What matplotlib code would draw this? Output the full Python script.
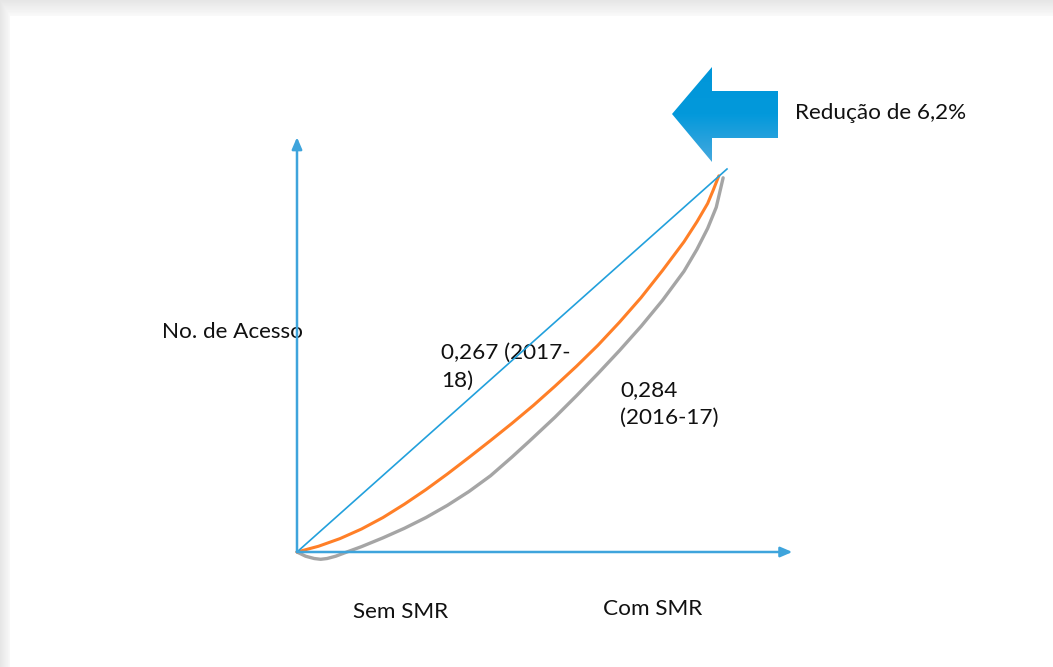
import numpy as np
import matplotlib.pyplot as plt
from matplotlib.patches import Polygon
from matplotlib.colors import LinearSegmentedColormap

plt.rcParams['font.family'] = ['Lato', 'DejaVu Sans']

# curvas de Lorenz (fracao acumulada)
equality_x = [0.0, 1.0]
equality_y = [0.0, 1.0]

gini_2017_x = [0.0, 0.05, 0.1, 0.15, 0.2, 0.25, 0.3, 0.35, 0.4, 0.45, 0.5, 0.55, 0.6,
               0.65, 0.7, 0.75, 0.8, 0.85, 0.9, 0.93, 0.955, 0.968, 0.981]
gini_2017_y = [0.0, 0.015, 0.035, 0.060, 0.090, 0.125, 0.163, 0.204, 0.247, 0.291, 0.336, 0.383, 0.433,
               0.485, 0.540, 0.600, 0.664, 0.735, 0.810, 0.862, 0.910, 0.945, 0.982]

gini_2016_x = [0.0, 0.02, 0.04, 0.055, 0.07, 0.09, 0.116, 0.15, 0.2, 0.25, 0.3, 0.35, 0.4, 0.45, 0.5,
               0.54, 0.6, 0.65, 0.7, 0.75, 0.8, 0.85, 0.9, 0.93, 0.955, 0.975, 0.991]
gini_2016_y = [0.0, -0.011, -0.017, -0.019, -0.017, -0.011, 0.0, 0.014, 0.037, 0.062, 0.090, 0.122, 0.158, 0.199, 0.248,
               0.289, 0.352, 0.408, 0.466, 0.526, 0.589, 0.657, 0.733, 0.790, 0.845, 0.900, 0.977]

label_2017 = '0,267 (2017-\n18)'
label_2016 = '0,284\n(2016-17)'
label_y = 'No. de Acesso'
label_x0 = 'Sem SMR'
label_x1 = 'Com SMR'
label_arrow = 'Redução de 6,2%'

W, H = 1053, 667
fig = plt.figure(figsize=(W / 100, H / 100), dpi=100)

# fundo com sombra cinza no topo e na esquerda
bg = fig.add_axes([0, 0, 1, 1])
yy, xx = np.mgrid[0:H, 0:W]
dy = np.clip((16 - yy) / 16, 0, 1)
dx = np.clip((10 - xx) / 10, 0, 1)
shade = np.maximum(dy, dx)
img = 1 - shade * 0.08 - (shade > 0) * 0.02
bg.imshow(img, cmap='gray', vmin=0, vmax=1, extent=[0, W, H, 0], aspect='auto')
bg.set_xlim(0, W)
bg.set_ylim(H, 0)
bg.axis('off')

# seta grande (decoracao)
arrow_pts = [(672, 114), (712, 67), (712, 91), (778, 91), (778, 138), (712, 138), (712, 162)]
poly = Polygon(arrow_pts, closed=True, facecolor='none', edgecolor='none')
bg.add_patch(poly)
grad = np.linspace(0, 1, 100).reshape(-1, 1)
cmap_b = LinearSegmentedColormap.from_list('b', ['#0096d9', '#0399db', '#48a9de'])
gi = bg.imshow(grad, cmap=cmap_b, extent=[670, 780, 164, 65], aspect='auto')
gi.set_clip_path(poly)

fs = 16.2
tc = '#111111'
bg.text(795, 113, label_arrow, fontsize=fs, va='center', ha='left', color=tc)

# grafico principal
ax = fig.add_axes([297 / W, (H - 552) / H, 430 / W, 383 / H])
ax.set_xlim(0, 1)
ax.set_ylim(0, 1)
ax.axis('off')

axis_color = '#3ea4dc'
arrow_style = dict(arrowstyle='-|>,head_length=0.7,head_width=0.3', color=axis_color, lw=1.8,
                   shrinkA=0, shrinkB=0)
ax.annotate('', xy=(1.152, 0), xytext=(0, 0), arrowprops=arrow_style, annotation_clip=False)
ax.annotate('', xy=(0, 1.083), xytext=(0, 0), arrowprops=arrow_style, annotation_clip=False)

ax.plot(gini_2016_x, gini_2016_y, color='#a5a5a5', lw=2.4, clip_on=False, solid_capstyle='round')
ax.plot(gini_2017_x, gini_2017_y, color='#ff7f27', lw=2.2, clip_on=False, solid_capstyle='round')
ax.plot(equality_x, equality_y, color='#22a0dc', lw=1.2, clip_on=False)

bg.text(441, 367, label_2017, fontsize=fs, va='center', ha='left', linespacing=1.5, color=tc)
bg.text(620, 404, label_2016, fontsize=fs, va='center', ha='left', linespacing=1.5, color=tc)
bg.text(162, 332, label_y, fontsize=fs, va='center', ha='left', color=tc)
bg.text(353, 612, label_x0, fontsize=fs, va='center', ha='left', color=tc)
bg.text(603, 609, label_x1, fontsize=fs, va='center', ha='left', color=tc)

fig.savefig('out.png', dpi=100)
